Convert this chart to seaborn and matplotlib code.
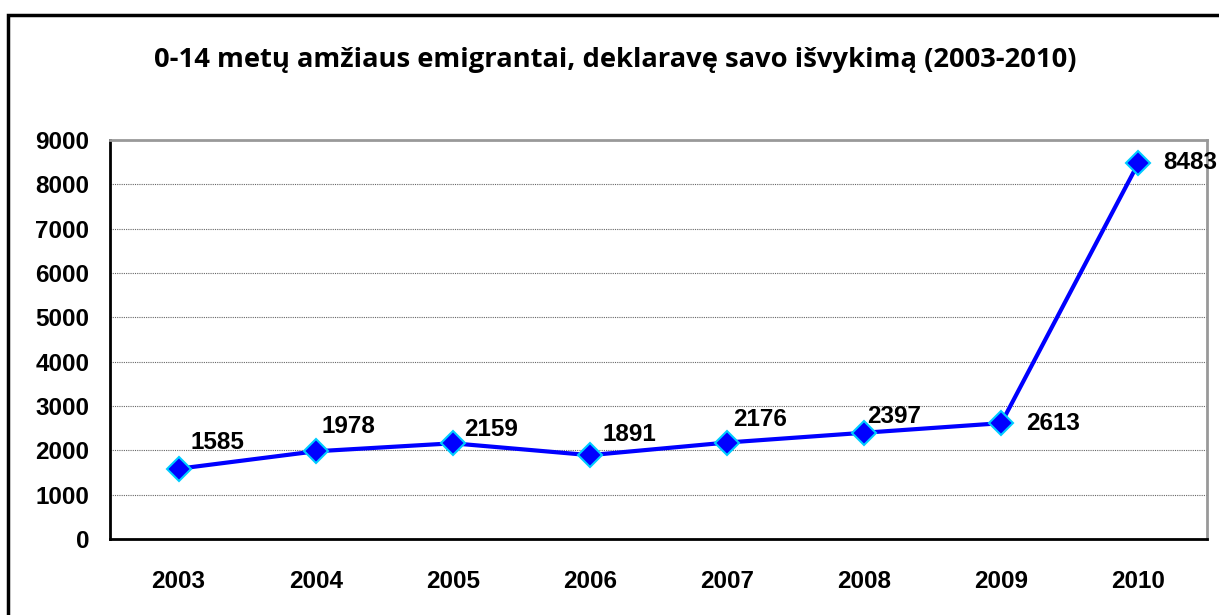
import matplotlib
matplotlib.use("Agg")
import matplotlib.pyplot as plt
import seaborn as sns
import pandas as pd
from matplotlib.patches import Rectangle

years = ["2003", "2004", "2005", "2006", "2007", "2008", "2009", "2010"]
values = [1585, 1978, 2159, 1891, 2176, 2397, 2613, 8483]
yticks = [0, 1000, 2000, 3000, 4000, 5000, 6000, 7000, 8000, 9000]
title = "0-14 metų amžiaus emigrantai, deklaravę savo išvykimą (2003-2010)"

# label offsets in pixels (style, not data)
label_offsets = [(39, 26), (33, 25), (38, 14), (39, 21), (33, 23), (30, 16), (52, 0), (52, 0)]

sns.set_style("white")
plt.rcParams['font.family'] = ['Liberation Sans', 'DejaVu Sans']
plt.rcParams['text.color'] = 'black'
plt.rcParams['xtick.color'] = 'black'
plt.rcParams['ytick.color'] = 'black'

df = pd.DataFrame({"x": range(len(years)), "year": years, "value": values})

fig = plt.figure(figsize=(12.19, 6.15), dpi=100)
ax = fig.add_axes([110/1219, 1-539/615, (1207-110)/1219, (539-140)/615])

sns.lineplot(data=df, x="x", y="value", ax=ax, color="#0000ff", linewidth=3,
             marker="D", markersize=12, markerfacecolor="#0000ff",
             markeredgecolor="#00ccff", markeredgewidth=1.5, zorder=3)

for i, v in enumerate(values):
    dx, dy = label_offsets[i]
    ax.annotate(str(v), (i, v), xytext=(dx*0.72, dy*0.72), textcoords="offset points",
                ha="center", va="center", fontsize=17.5, fontweight="bold", color="black")

ax.set_xlim(-0.5, len(years)-0.5)
ax.set_ylim(0, 9000)
ax.set_yticks(yticks)
ax.set_yticklabels([str(t) for t in yticks], fontsize=17.5, fontweight="bold")
ax.set_xticks([i - 0.5 for i in range(len(years)+1)])
ax.set_xticklabels([])
ax.set_xticks(range(len(years)), minor=True)
ax.set_xticklabels(years, minor=True, fontsize=17.5, fontweight="bold")
ax.tick_params(axis="x", which="minor", length=0, pad=22, labelcolor="black")
ax.tick_params(axis="x", which="major", length=7, width=1.5, direction="out", color="black")
ax.tick_params(axis="y", length=7, width=1.5, direction="out", color="black", pad=8,
               labelcolor="black")
ax.set_xlabel("")
ax.set_ylabel("")

ax.yaxis.grid(True, linestyle=(0, (1, 1)), color="#666666", linewidth=0.8)
ax.set_axisbelow(True)
for s in ["left", "bottom"]:
    ax.spines[s].set_color("black")
    ax.spines[s].set_linewidth(2)
for s in ["top", "right"]:
    ax.spines[s].set_color("#999999")
    ax.spines[s].set_linewidth(2)

fig.text(615/1219, 1-60/615, title, ha="center", va="center", fontsize=19.7,
         fontweight="bold", color="black", family=["Open Sans", "DejaVu Sans"])

fig.patches.append(Rectangle((8/1219, -0.1), 1.2, 1-15/615+0.1, transform=fig.transFigure,
                             fill=False, edgecolor="black", linewidth=2.5))

fig.savefig("out.png", dpi=100)
